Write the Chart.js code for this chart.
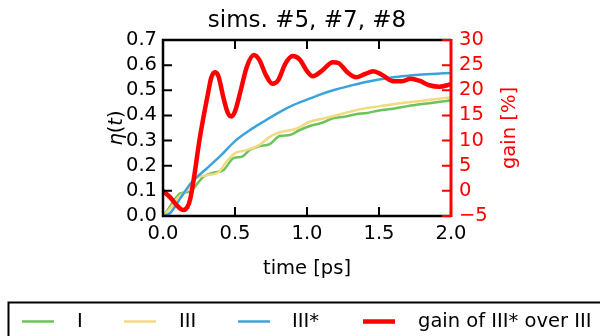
<!DOCTYPE html>
<html>
<head>
<meta charset="utf-8">
<script src="https://cdn.jsdelivr.net/npm/chart.js@4.4.0/dist/chart.umd.min.js"></script>
<style>
  html, body { margin: 0; padding: 0; background: #fff; }
</style>
</head>
<body>
<canvas id="simsChart" width="600" height="336"></canvas>
<script>
// efficiency curves eta(t)
const timeI = [0, 0.04, 0.08, 0.12, 0.19, 0.24, 0.28, 0.35, 0.42, 0.49, 0.55, 0.6, 0.67, 0.74, 0.81, 0.88, 0.95, 1.02, 1.1, 1.18, 1.26, 1.34, 1.42, 1.5, 1.6, 1.7, 1.8, 1.9, 2.0];
const etaI = [0, 0.03, 0.065, 0.09, 0.097, 0.13, 0.156, 0.172, 0.183, 0.23, 0.236, 0.262, 0.278, 0.286, 0.318, 0.322, 0.342, 0.358, 0.37, 0.389, 0.395, 0.405, 0.41, 0.42, 0.427, 0.437, 0.445, 0.452, 0.46];

const timeIII = [0, 0.05, 0.1, 0.17, 0.23, 0.3, 0.38, 0.44, 0.5, 0.58, 0.67, 0.75, 0.85, 0.92, 1.02, 1.1, 1.2, 1.3, 1.4, 1.5, 1.65, 1.8, 2.0];
const etaIII = [0, 0.03, 0.07, 0.105, 0.15, 0.162, 0.172, 0.215, 0.25, 0.262, 0.283, 0.318, 0.338, 0.346, 0.375, 0.386, 0.40, 0.415, 0.428, 0.436, 0.448, 0.458, 0.472];

const timeIIIs = [0, 0.05, 0.12, 0.2, 0.3, 0.4, 0.5, 0.6, 0.7, 0.8, 0.9, 1.0, 1.1, 1.2, 1.3, 1.4, 1.5, 1.6, 1.7, 1.8, 1.9, 2.0];
const etaIIIs = [0, 0.012, 0.07, 0.135, 0.187, 0.24, 0.298, 0.34, 0.376, 0.41, 0.44, 0.463, 0.485, 0.503, 0.518, 0.532, 0.543, 0.552, 0.558, 0.563, 0.566, 0.569];

// gain of III* over III in %
const timeGain = [0, 0.05, 0.1, 0.14, 0.17, 0.19, 0.22, 0.25, 0.28, 0.31, 0.335, 0.36, 0.385, 0.42, 0.45, 0.475, 0.5, 0.54, 0.58, 0.63, 0.67, 0.71, 0.76, 0.8, 0.85, 0.9, 0.95, 1.0, 1.04, 1.1, 1.18, 1.22, 1.28, 1.34, 1.4, 1.46, 1.52, 1.6, 1.66, 1.72, 1.78, 1.85, 1.92, 2.0];
const gain = [0, -1.3, -3.0, -3.8, -3.2, -1.5, 3.5, 9.5, 14.5, 19.0, 22.5, 23.6, 22.8, 18.5, 15.5, 14.8, 15.8, 20.0, 24.5, 27.0, 26.0, 23.3, 21.3, 22.0, 25.3, 26.8, 26.1, 23.8, 22.8, 23.8, 25.6, 25.4, 23.6, 22.6, 23.2, 23.8, 23.1, 21.8, 21.8, 22.3, 21.9, 21.0, 20.7, 21.2];

const xTicks = [0, 0.5, 1.0, 1.5, 2.0];
const etaTicks = [0, 0.1, 0.2, 0.3, 0.4, 0.5, 0.6, 0.7];
const gainTicks = [-5, 0, 5, 10, 15, 20, 25, 30];

const seriesLabels = ['I', 'III', 'III*', 'gain of III* over III'];

const FONT = 'DejaVu Sans, Verdana, sans-serif';

function pts(ts, vs) {
  return ts.map((t, i) => ({ x: t, y: vs[i] }));
}

// spines, inward ticks, titles and the boxed legend (matplotlib look)
const decorPlugin = {
  id: 'decor',
  afterDatasetsDraw(chart) {
    const ctx = chart.ctx;
    const a = chart.chartArea;
    const sx = chart.scales.x, sy = chart.scales.y, sg = chart.scales.yGain;
    const tl = 9;
    ctx.save();
    // black spines
    ctx.strokeStyle = '#000';
    ctx.lineWidth = 2.5;
    ctx.beginPath();
    ctx.moveTo(a.right, a.top); ctx.lineTo(a.left, a.top);
    ctx.lineTo(a.left, a.bottom); ctx.lineTo(a.right, a.bottom);
    ctx.stroke();
    // ticks
    ctx.lineWidth = 2;
    ctx.beginPath();
    xTicks.forEach(v => {
      const px = sx.getPixelForValue(v);
      ctx.moveTo(px, a.bottom); ctx.lineTo(px, a.bottom - tl);
      ctx.moveTo(px, a.top); ctx.lineTo(px, a.top + tl);
    });
    etaTicks.forEach(v => {
      const py = sy.getPixelForValue(v);
      ctx.moveTo(a.left, py); ctx.lineTo(a.left + tl, py);
    });
    ctx.stroke();
    // red right spine + ticks
    ctx.strokeStyle = '#ff0000';
    ctx.lineWidth = 3;
    ctx.beginPath();
    ctx.moveTo(a.right, a.top - 1); ctx.lineTo(a.right, a.bottom + 1);
    ctx.stroke();
    ctx.lineWidth = 2;
    ctx.beginPath();
    gainTicks.forEach(v => {
      const py = sg.getPixelForValue(v);
      ctx.moveTo(a.right, py); ctx.lineTo(a.right - tl, py);
    });
    ctx.stroke();
    ctx.restore();
  },
  afterDraw(chart) {
    const ctx = chart.ctx;
    const a = chart.chartArea;
    const cx = (a.left + a.right) / 2;
    const cy = (a.top + a.bottom) / 2;
    ctx.save();
    ctx.fillStyle = '#000';
    ctx.textAlign = 'center';
    ctx.textBaseline = 'alphabetic';
    ctx.font = '23px ' + FONT;
    ctx.fillText('sims. #5, #7, #8', cx, 27);

    ctx.font = '19.5px ' + FONT;
    ctx.textBaseline = 'middle';
    ctx.fillText('time [ps]', cx, 269);

    // eta(t), mathtext style: italic symbols, upright parens
    ctx.save();
    ctx.translate(117, cy);
    ctx.rotate(-Math.PI / 2);
    const parts = [['η', 'italic '], ['(', ''], ['t', 'italic '], [')', '']];
    let w = 0;
    parts.forEach(p => { ctx.font = p[1] + '19.5px ' + FONT; w += ctx.measureText(p[0]).width; });
    let x0 = -w / 2;
    ctx.textAlign = 'left';
    parts.forEach(p => {
      ctx.font = p[1] + '19.5px ' + FONT;
      ctx.fillText(p[0], x0, 0);
      x0 += ctx.measureText(p[0]).width;
    });
    ctx.restore();

    ctx.save();
    ctx.translate(510, cy);
    ctx.rotate(-Math.PI / 2);
    ctx.fillStyle = '#ff0000';
    ctx.font = '19.5px ' + FONT;
    ctx.textAlign = 'center';
    ctx.fillText('gain [%]', 0, 0);
    ctx.restore();

    // legend box below the axes (runs past the right edge)
    ctx.strokeStyle = '#000';
    ctx.lineWidth = 2;
    ctx.strokeRect(8.5, 302.5, 700, 60);
    const handleX = [22, 124, 238, 363];
    const textX = [77, 179, 292, 418];
    const ly = 321.5;
    ctx.font = '19.5px ' + FONT;
    ctx.textAlign = 'left';
    ctx.textBaseline = 'middle';
    chart.data.datasets.forEach((ds, i) => {
      ctx.strokeStyle = ds.borderColor;
      ctx.lineWidth = ds.borderWidth;
      ctx.beginPath();
      ctx.moveTo(handleX[i], ly);
      ctx.lineTo(handleX[i] + 32, ly);
      ctx.stroke();
      ctx.fillStyle = '#000';
      ctx.fillText(ds.label, textX[i], ly);
    });
    ctx.restore();
  }
};

const ctx = document.getElementById('simsChart').getContext('2d');
const simsChart = new Chart(ctx, {
  type: 'line',
  data: {
    datasets: [
      { label: seriesLabels[0], data: pts(timeI, etaI), borderColor: '#6cc35a', borderWidth: 2.5, yAxisID: 'y', order: 3 },
      { label: seriesLabels[1], data: pts(timeIII, etaIII), borderColor: '#f2da82', borderWidth: 2.5, yAxisID: 'y', order: 2 },
      { label: seriesLabels[2], data: pts(timeIIIs, etaIIIs), borderColor: '#3ba3dc', borderWidth: 2.5, yAxisID: 'y', order: 1 },
      { label: seriesLabels[3], data: pts(timeGain, gain), borderColor: '#ff0000', borderWidth: 4.5, yAxisID: 'yGain', order: 0 }
    ]
  },
  options: {
    responsive: false,
    animation: false,
    elements: {
      point: { radius: 0 },
      line: { cubicInterpolationMode: 'monotone', fill: false }
    },
    layout: { padding: { top: 40, left: 0, right: 0, bottom: 0 } },
    plugins: {
      legend: { display: false },
      title: { display: false },
      tooltip: { enabled: false }
    },
    scales: {
      x: {
        type: 'linear',
        min: 0, max: 2,
        afterBuildTicks: s => { s.ticks = xTicks.map(v => ({ value: v })); },
        afterFit: s => { s.height = 120; },
        grid: { display: false, drawTicks: false },
        border: { display: false },
        ticks: { color: '#000', font: { family: FONT, size: 19.5 }, padding: 6, maxRotation: 0, autoSkip: false, callback: v => v.toFixed(1) }
      },
      y: {
        position: 'left',
        min: 0, max: 0.7,
        afterBuildTicks: s => { s.ticks = etaTicks.map(v => ({ value: v })); },
        afterFit: s => { s.width = 163; },
        grid: { display: false, drawTicks: false },
        border: { display: false },
        ticks: { color: '#000', font: { family: FONT, size: 19.5 }, padding: 6, autoSkip: false, callback: v => v.toFixed(1) }
      },
      yGain: {
        position: 'right',
        min: -5, max: 30,
        afterBuildTicks: s => { s.ticks = gainTicks.map(v => ({ value: v })); },
        afterFit: s => { s.width = 149; },
        grid: { display: false, drawTicks: false },
        border: { display: false },
        ticks: { color: '#ff0000', font: { family: FONT, size: 19.5 }, padding: 8, autoSkip: false, callback: v => (v < 0 ? '\u2212' + Math.abs(v) : String(v)) }
      }
    }
  },
  plugins: [decorPlugin]
});
</script>
</body>
</html>
